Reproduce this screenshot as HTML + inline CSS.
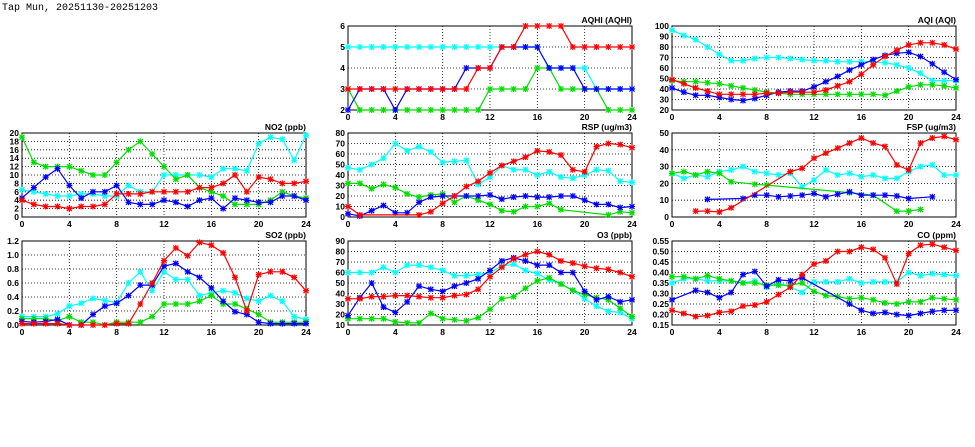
<!DOCTYPE html>
<html><head><meta charset="utf-8"><style>
body{margin:0;background:#fff;width:975px;height:447px;overflow:hidden}
svg{display:block}
text{font-family:"Liberation Sans",sans-serif;font-size:8.5px;font-weight:bold;fill:#000}
</style></head><body>
<svg id="chart" width="975" height="447" viewBox="0 0 975 447">
<text x="2" y="10" style="font-size:10px;font-weight:normal;font-family:'Liberation Mono',monospace">Tap Mun, 20251130-20251203</text>
</svg>
<script>
const hours = [0,1,2,3,4,5,6,7,8,9,10,11,12,13,14,15,16,17,18,19,20,21,22,23,24];
const N = null;
const aqhiRed=[3,3,3,3,3,3,3,3,3,3,3,4,4,5,5,6,6,6,6,5,5,5,5,5,5];
const aqhiBlue=[2,3,3,3,2,3,3,3,3,3,4,4,4,5,5,5,5,4,4,4,3,3,3,3,3];
const aqhiCyan=[5,5,5,5,5,5,5,5,5,5,5,5,5,5,5,5,5,4,4,4,4,3,3,3,3];
const aqhiGreen=[3,2,2,2,2,2,2,2,2,2,2,2,3,3,3,3,4,4,3,3,3,3,2,2,2];
const aqiCyan=[96,91,87,80,73,67,67,69,70,70,69,68,67,67,66,66,66,66,65,63,60,55,48,48,48];
const aqiBlue=[41,37,34,34,32,30,29,31,34,37,38,38,42,47,52,58,63,68,72,74,75,71,64,56,49];
const aqiRed=[49,45,41,38,35,35,35,35,36,36,37,37,37,39,43,47,54,63,71,77,82,84,84,82,78];
const aqiGreen=[48,47,47,46,45,43,41,39,37,36,35,35,35,35,35,35,35,35,34,38,42,44,44,43,41];
const no2Green=[19,13,12,12,12,11,10,10,13,16,18,15,12,9,10,7,6,5,3,3,3,4,6,5,4.5];
const no2Cyan=[6.5,6,5.5,5,5,5.5,5.5,5,5,7.5,6,6,10,10,10,10,9.5,11.5,11.5,11,17.5,19,18.5,13.5,19.5];
const no2Blue=[4.5,7,9.5,11.5,7.5,4.5,6,6,7.5,3.5,3,3,4,3.5,2.5,4,4.5,2,4.5,4,3.5,3.5,5,5,4];
const no2Red=[4,3,2.5,2.5,2,2.5,2.5,3,5.5,5.5,5.5,6,6,6,6,7,7,8,10,6,9.5,9,8,8,8.5];
const rspCyan=[47,45,50,56,70,63,67,62,52,53,54,31,38,49,45,45,40,43,38,37,40,45,44,34,33];
const rspGreen=[32,32,27,31,28,22,19,21,22,14,20,16,12,6,5,10,10,13,7,N,N,N,2,5,4];
const rspBlue=[3,1,6,11,4,4,14,19,20,20,20,20,21,17,19,20,19,19,20,20,16,12,12,9,10];
const rspRed=[10,2,N,N,N,N,2,5,13,20,29,34,42,49,53,57,63,62,59,45,43,67,70,69,66];
const fspRed=[N,N,3.5,3.5,3,5.5,N,N,N,N,27,29,35,38,41,44,47,44,42,31,28,44,47,48,46];
const fspCyan=[26,23,25,24,27,28,30,27,26,25,26,18,22,28,25,26,24,25,23,23,27,30,31,25,25];
const fspGreen=[26,27,25,27,26,21,N,19.5,19,N,N,N,N,N,N,14.5,N,13,N,3.5,3.5,4.5,N,N,N];
const fspBlue=[N,N,N,10.5,N,N,11,13,13,12,12.5,13,14,12,13.5,15,13,13,13,12.5,11,N,12,N,N];
const so2Red=[0.02,0.02,0.02,0.02,0,0,0,0,0.02,0.02,0.3,0.6,0.92,1.1,0.99,1.18,1.14,1.03,0.68,0.2,0.72,0.76,0.76,0.68,0.49];
const so2Blue=[0.05,0.04,0.05,0.08,0,0,0.15,0.27,0.31,0.42,0.57,0.57,0.84,0.88,0.76,0.68,0.53,0.34,0.19,0.15,0.04,0.02,0.02,0.02,0.02];
const so2Cyan=[0.12,0.12,0.12,0.16,0.27,0.31,0.38,0.35,0.32,0.6,0.76,0.49,0.76,0.65,0.65,0.42,0.46,0.49,0.46,0.38,0.34,0.42,0.34,0.12,0.08];
const so2Green=[0.09,0.09,0.09,0.06,0.12,0.04,0.04,0,0.04,0.04,0.04,0.12,0.3,0.3,0.3,0.34,0.42,0.3,0.3,0.23,0.15,0.04,0.04,0.04,0.04];
const o3Red=[35,35,37,37,38,38,37,36,36,38,39,44,56,65,73,77,80,77,71,69,66,64,63,60,56];
const o3Blue=[19,36,50,27,22,32,47,44,42,47,50,54,62,71,74,71,67,67,60,60,42,34,37,32,34];
const o3Cyan=[60,60,60,65,60,67,67,65,62,57,57,58,60,66,68,62,59,53,49,43,35,28,23,22,16];
const o3Green=[16,16,16,16,13,12,12,21,16,15,14,17,25,35,37,45,52,55,49,43,39,36,34,26,18];
const coRed=[.22,.205,.19,.195,.21,.215,.24,.245,.26,.295,.33,.39,.44,.455,.5,.5,.52,.51,.47,.345,.49,.53,.535,.52,.505];
const coCyan=[.35,.37,.37,.36,.36,.36,.35,.36,.33,.35,.33,.305,.355,.355,.355,.37,.35,.355,.355,.355,.4,.385,.395,.39,.385];
const coGreen=[.38,.38,.37,.385,.37,.36,.35,.35,.34,.34,.34,.35,.31,.29,.285,.275,.28,.27,.255,.25,.26,.26,.28,.275,.27];
const coBlue=[.27,N,.315,.305,.28,.305,.39,.405,.335,.365,.36,.375,N,N,N,.25,.22,.205,.21,.2,.195,.205,.215,.22,.22];
const xTicks=[0,4,8,12,16,20,24];

const panels=[
 {name:'aqhi',title:'AQHI (AQHI)',x:348,y:26,min:2,max:6,step:1,dec:0,s:[aqhiCyan,aqhiGreen,aqhiBlue,aqhiRed]},
 {name:'aqi',title:'AQI (AQI)',x:672,y:26,min:20,max:100,step:10,dec:0,s:[aqiCyan,aqiGreen,aqiBlue,aqiRed]},
 {name:'no2',title:'NO2 (ppb)',x:22,y:133,min:0,max:20,step:2,dec:0,s:[no2Cyan,no2Green,no2Blue,no2Red]},
 {name:'rsp',title:'RSP (ug/m3)',x:348,y:133,min:0,max:80,step:10,dec:0,s:[rspCyan,rspGreen,rspBlue,rspRed]},
 {name:'fsp',title:'FSP (ug/m3)',x:672,y:133,min:0,max:50,step:10,dec:0,s:[fspCyan,fspGreen,fspBlue,fspRed]},
 {name:'so2',title:'SO2 (ppb)',x:22,y:241,min:0,max:1.2,step:0.2,dec:1,s:[so2Cyan,so2Green,so2Blue,so2Red]},
 {name:'o3',title:'O3 (ppb)',x:348,y:241,min:10,max:90,step:10,dec:0,s:[o3Cyan,o3Green,o3Blue,o3Red]},
 {name:'co',title:'CO (ppm)',x:672,y:241,min:0.15,max:0.55,step:0.05,dec:2,s:[coCyan,coGreen,coBlue,coRed]}
];
const colors=['#00ffff','#00dd00','#0000ff','#ff0000'];
const sNames=['cyan','green','blue','red'];
const W=284,H=84;
const NS='http://www.w3.org/2000/svg';
const svg=document.getElementById('chart');
function mk(tag,attrs,parent){const e=document.createElementNS(NS,tag);for(const k in attrs)e.setAttribute(k,attrs[k]);parent.appendChild(e);return e;}
panels.forEach(p=>{
 const g=mk('g',{},svg);
 
 
 const sx=h=>p.x+h/24*W;
 const sy=v=>p.y+H-(v-p.min)/(p.max-p.min)*H;
 const nT=Math.round((p.max-p.min)/p.step);
 for(let i=0;i<=nT;i++){
  const v=p.min+i*p.step, y=sy(v);
  if(i>0&&i<nT){const l=mk('line',{x1:p.x,x2:p.x+W,y1:y,y2:y,stroke:'#000','stroke-width':0.8,'stroke-dasharray':'1,2'},g);
   
   }
  const t=mk('text',{x:p.x-3,y:y+3,'text-anchor':'end'},g);
  
  
  t.textContent=v.toFixed(p.dec);
 }
 xTicks.forEach((h,i)=>{
  const x=sx(h);
  if(i>0&&i<xTicks.length-1){const l=mk('line',{x1:x,x2:x,y1:p.y,y2:p.y+H,stroke:'#000','stroke-width':0.8,'stroke-dasharray':'1,2'},g);
   
   }
  const t=mk('text',{x:x,y:p.y+H+10,'text-anchor':'middle'},g);
  
  
  t.textContent=h;
 });
 const b=mk('rect',{x:p.x,y:p.y,width:W,height:H,fill:'none',stroke:'#000','stroke-width':1},g);
 
 
 const tt=mk('text',{x:p.x+W,y:p.y-3,'text-anchor':'end'},g);
 
 
 tt.textContent=p.title;
 p.s.forEach((arr,si)=>{
  const pts=[];
  arr.forEach((v,i)=>{if(v!==null)pts.push([sx(hours[i]),sy(v)]);});
  const pl=mk('polyline',{points:pts.map(q=>q[0].toFixed(1)+','+q[1].toFixed(1)).join(' '),fill:'none',stroke:colors[si],'stroke-width':1.2},g);
  
  
  pts.forEach(q=>{
   const m=mk('path',{d:`M${q[0]-2.5},${q[1]-2.5}L${q[0]+2.5},${q[1]+2.5}M${q[0]-2.5},${q[1]+2.5}L${q[0]+2.5},${q[1]-2.5}M${q[0]-3},${q[1]}L${q[0]+3},${q[1]}M${q[0]},${q[1]-3}L${q[0]},${q[1]+3}`,stroke:colors[si],'stroke-width':1.2},g);
   
   
  });
 });
});
</script>
</body></html>
